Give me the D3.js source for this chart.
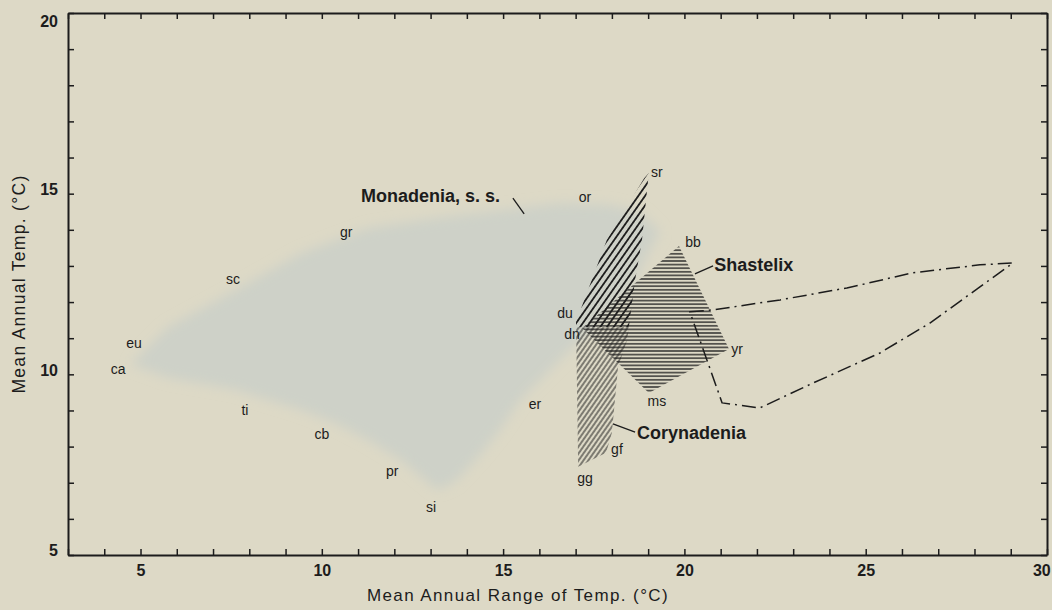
<!DOCTYPE html>
<html><head><meta charset="utf-8">
<script src="https://cdn.jsdelivr.net/npm/d3@7"></script>
<style>
html,body{margin:0;padding:0;background:#ddd9c6;}
svg{display:block;font-family:"Liberation Sans",Arial,Helvetica,sans-serif;}
</style></head><body>
<svg id="chart" width="1052" height="610"></svg>
<script>
// ---------- data ----------
const xDomain = [3, 30];
const yDomain = [5, 20];
const xTickValues = d3.range(3, 31);
const yTickValues = d3.range(5, 21);
const xTickLabels = [5, 10, 15, 20, 25, 30];
const yTickLabels = [5, 10, 15, 20];
const xTitle = "Mean Annual Range of Temp. (°C)";
const yTitle = "Mean Annual Temp. (°C)";

// Monadenia, s. s. (grey shaded range)
const monadeniaOutline = [
  [4.71,10.26],[5.76,11.31],[7.61,12.33],[9.43,13.36],[11.27,14.05],[13.12,14.33],
  [14.94,14.55],[16.57,14.74],[17.95,14.69],[18.77,14.49],[19.33,13.94],[19.05,13.44],
  [18.50,12.33],[17.67,11.50],[16.98,10.81],[16.16,9.98],[15.47,9.29],[14.91,8.46],
  [14.36,7.77],[13.67,7.02],[13.18,6.80],[12.18,7.63],[11.27,8.18],[10.36,8.65],
  [9.43,9.01],[7.61,9.57],[5.76,9.90],[4.85,10.23]
];
// Corynadenia (diagonal hatching)
const corynadeniaOutline = [
  [17.07,7.44],[17.01,11.45],[17.86,13.72],[18.89,15.43],[19.02,15.57],[18.97,15.10],
  [18.83,13.72],[18.64,12.61],[18.42,10.95],[18.17,10.20],[18.00,8.38],[17.84,7.83]
];
// Shastelix (horizontal hatching)
const shastelixOutline = [
  [19.85,13.55],[21.23,10.70],[19.02,9.48],[17.18,11.28]
];
// unlabelled range (dash-dot outline)
const dashDotOutline = [
  [20.15,11.73],[20.76,11.78],[22.64,12.06],[24.48,12.39],[26.30,12.81],[28.15,13.03],
  [29.06,13.08],[28.15,12.42],[26.77,11.42],[25.39,10.59],[23.55,9.76],[22.08,9.07],
  [21.04,9.21]
];

// locality codes
const stationNames = ["or","sr","gr","sc","eu","ca","ti","cb","pr","si","er","du","dn","bb","yr","ms","gf","gg"];
const stationX = [17.26,19.24,10.67,7.55,4.82,4.38,7.88,10.0,11.94,13.01,15.88,16.71,16.90,20.24,21.45,19.24,18.14,17.26];
const stationY = [14.91,15.60,13.94,12.64,10.87,10.15,9.01,8.35,7.32,6.33,9.18,11.70,11.12,13.66,10.70,9.26,7.93,7.13];

// group names with leader lines
const groupNames = ["Monadenia, s. s.", "Shastelix", "Corynadenia"];
const groupLabelX = [11.08, 20.82, 18.69];
const groupLabelY = [14.77, 12.86, 8.21];
const groupLeaders = [
  [[15.27,14.88],[15.58,14.44]],
  [[20.29,12.78],[20.79,13.00]],
  [[18.03,8.63],[18.64,8.40]]
];

// ---------- drawing ----------
const W = 1052, H = 610;
const svg = d3.select("#chart");
const x = d3.scaleLinear().domain(xDomain).range([68, 1047]);
const y = d3.scaleLinear().domain(yDomain).range([555, 13]);
const ink = "#1c1c1c";

svg.append("rect").attr("width", W).attr("height", H).attr("fill", "#ddd9c6");

const defs = svg.append("defs");
const blur = defs.append("filter").attr("id", "soft")
  .attr("x", "-20%").attr("y", "-20%").attr("width", "140%").attr("height", "140%");
blur.append("feGaussianBlur").attr("stdDeviation", 6);

function linePattern(id, size, width, angle) {
  const p = defs.append("pattern").attr("id", id)
    .attr("patternUnits", "userSpaceOnUse")
    .attr("width", size).attr("height", size)
    .attr("patternTransform", `rotate(${angle})`);
  p.append("line").attr("x1", size / 2).attr("y1", 0).attr("x2", size / 2).attr("y2", size)
    .attr("stroke", ink).attr("stroke-width", width);
}
linePattern("hatchHeavy", 5.5, 1.8, 35);
linePattern("hatchLight", 4, 1.0, 35);
linePattern("hatchHoriz", 3.6, 1.3, 90);

const line = d3.line().x(d => x(d[0])).y(d => y(d[1]));
const closed = d3.line().x(d => x(d[0])).y(d => y(d[1])).curve(d3.curveLinearClosed);

// grey Monadenia range
svg.append("path").attr("d", closed(monadeniaOutline))
  .attr("fill", "#ced1c8").attr("filter", "url(#soft)");

// Corynadenia, split into heavier upper part and lighter lower part
const splitY = 11.3;
defs.append("clipPath").attr("id", "upperClip").append("rect")
  .attr("x", 0).attr("y", 0).attr("width", W).attr("height", y(splitY));
defs.append("clipPath").attr("id", "lowerClip").append("rect")
  .attr("x", 0).attr("y", y(splitY)).attr("width", W).attr("height", H - y(splitY));
svg.append("path").attr("d", closed(corynadeniaOutline))
  .attr("fill", "url(#hatchHeavy)").attr("clip-path", "url(#upperClip)");
svg.append("path").attr("d", closed(corynadeniaOutline))
  .attr("fill", "url(#hatchLight)").attr("clip-path", "url(#lowerClip)");

// Shastelix
svg.append("path").attr("d", closed(shastelixOutline))
  .attr("fill", "url(#hatchHoriz)");

// dash-dot outline
svg.append("path").attr("d", closed(dashDotOutline))
  .attr("fill", "none").attr("stroke", ink).attr("stroke-width", 1.5)
  .attr("stroke-dasharray", "14,5,2,5").attr("stroke-linejoin", "round");

// axes
const fmtX = d => xTickLabels.includes(d) ? d : "";
const fmtY = d => yTickLabels.includes(d) ? d : "";
const tickLen = -6;
const gx = svg.append("g").attr("transform", `translate(0,${y(yDomain[0])})`)
  .call(d3.axisBottom(x).tickValues(xTickValues).tickFormat(fmtX)
        .tickSizeInner(tickLen).tickSizeOuter(0).tickPadding(10));
const gxt = svg.append("g").attr("transform", `translate(0,${y(yDomain[1])})`)
  .call(d3.axisTop(x).tickValues(xTickValues).tickFormat("")
        .tickSizeInner(tickLen).tickSizeOuter(0));
const gy = svg.append("g").attr("transform", `translate(${x(xDomain[0])},0)`)
  .call(d3.axisLeft(y).tickValues(yTickValues).tickFormat(fmtY)
        .tickSizeInner(tickLen).tickSizeOuter(0).tickPadding(10));
const gyr = svg.append("g").attr("transform", `translate(${x(xDomain[1])},0)`)
  .call(d3.axisRight(y).tickValues(yTickValues).tickFormat("")
        .tickSizeInner(tickLen).tickSizeOuter(0));

[gx, gxt, gy, gyr].forEach(g => {
  g.select(".domain").attr("stroke", ink).attr("stroke-width", 2);
  g.selectAll(".tick line").attr("stroke", ink).attr("stroke-width", 1.5);
  g.selectAll(".tick text").attr("fill", ink)
    .attr("font-family", '"Liberation Sans",Arial,sans-serif')
    .attr("font-size", 16).attr("font-weight", "bold");
});
gy.selectAll(".tick text").attr("dy", d => d === yDomain[1] ? "0.85em" : "0.05em");
// keep the last x label inside the page
gx.selectAll(".tick text").filter(d => d === xDomain[1])
  .attr("text-anchor", "end").attr("dx", "0.2em");

// axis titles
svg.append("text").attr("x", 518).attr("y", 601).attr("text-anchor", "middle")
  .attr("font-size", 17).attr("letter-spacing", 1.4).attr("fill", ink).text(xTitle);
svg.append("text").attr("transform", "translate(25,284) rotate(-90)")
  .attr("text-anchor", "middle").attr("font-size", 17.5).attr("letter-spacing", 1.3)
  .attr("fill", ink).text(yTitle);

// locality codes
svg.append("g").selectAll("text").data(stationNames).join("text")
  .attr("x", (d, i) => x(stationX[i])).attr("y", (d, i) => y(stationY[i]))
  .attr("dy", "0.35em").attr("text-anchor", "middle")
  .attr("font-size", 14).attr("fill", ink).text(d => d);

// group labels
svg.append("g").selectAll("text").data(groupNames).join("text")
  .attr("x", (d, i) => x(groupLabelX[i])).attr("y", (d, i) => y(groupLabelY[i]))
  .attr("font-size", 18).attr("font-weight", "bold").attr("fill", ink).text(d => d);
svg.append("g").selectAll("path").data(groupLeaders).join("path")
  .attr("d", d => line(d)).attr("stroke", ink).attr("stroke-width", 1.3).attr("fill", "none");
</script>
</body></html>
